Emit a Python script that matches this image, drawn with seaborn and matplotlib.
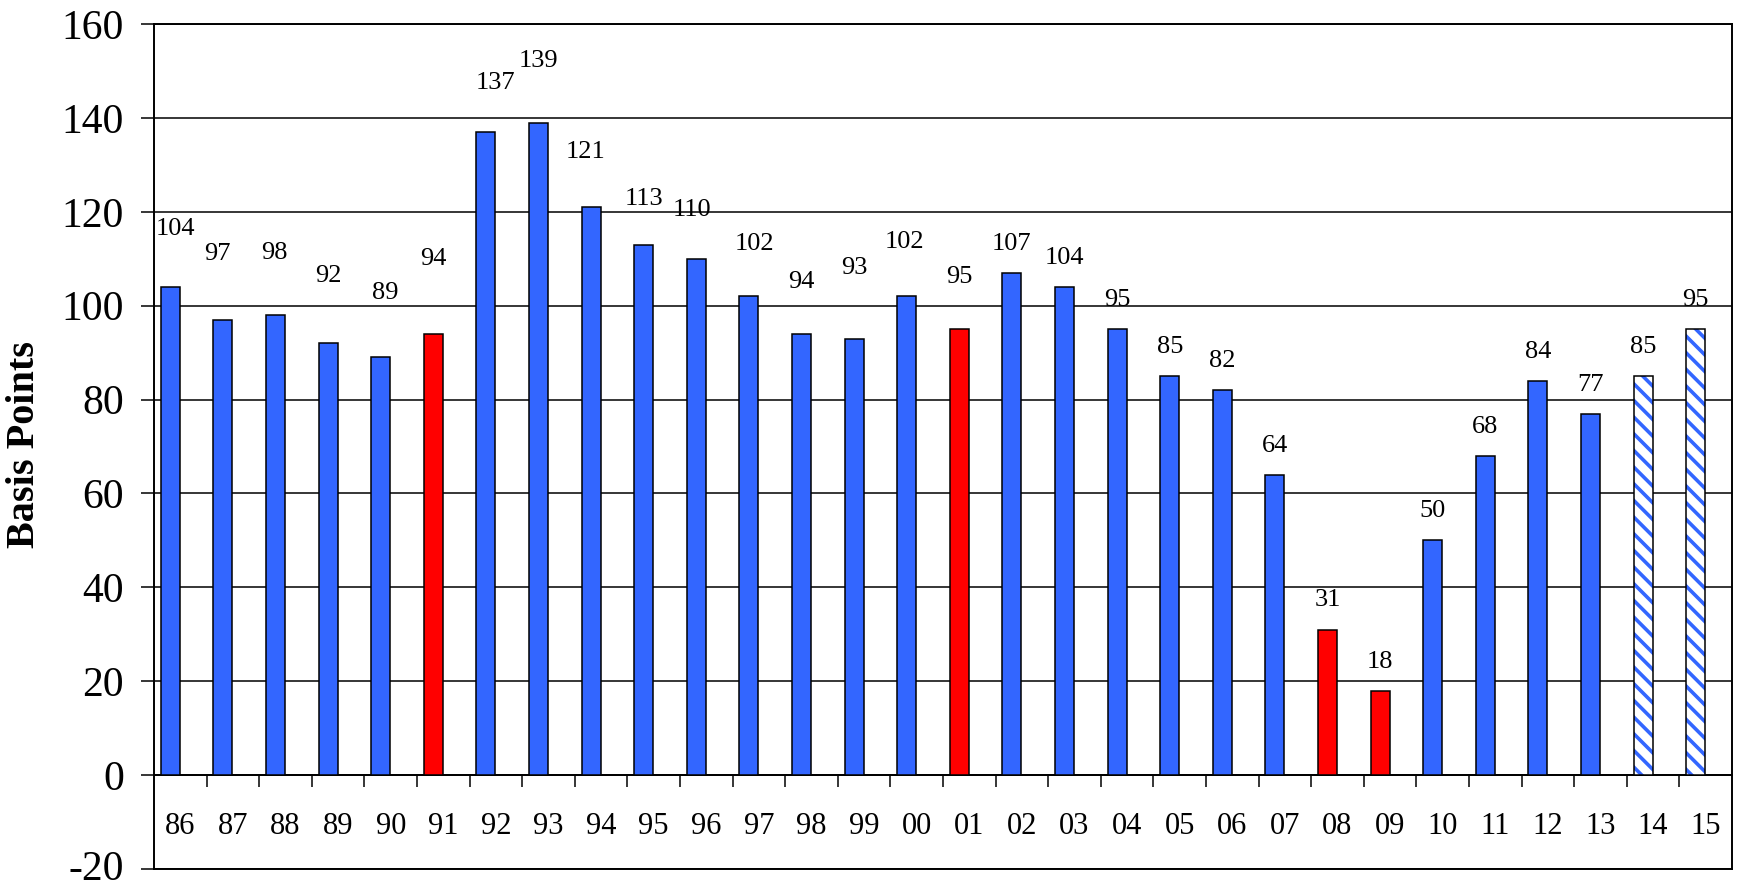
import matplotlib
matplotlib.use("Agg")
import matplotlib.pyplot as plt
import matplotlib.transforms as mtransforms
from matplotlib.patches import Rectangle
import seaborn as sns
import pandas as pd

# Yearly spread values, basis points
years = ["86", "87", "88", "89", "90", "91", "92", "93", "94", "95",
         "96", "97", "98", "99", "00", "01", "02", "03", "04", "05",
         "06", "07", "08", "09", "10", "11", "12", "13", "14", "15"]
basis_points = [104, 97, 98, 92, 89, 94, 137, 139, 121, 113,
                110, 102, 94, 93, 102, 95, 107, 104, 95, 85,
                82, 64, 31, 18, 50, 68, 84, 77, 85, 95]
phase = ["Expansion"] * 5 + ["Recession"] + ["Expansion"] * 9 + ["Recession"] \
    + ["Expansion"] * 6 + ["Recession"] * 2 + ["Expansion"] * 4 + ["Forecast"] * 2

# Hand placement of the value labels: lift above the bar (data units) and sideways nudge (points)
label_lift = [12.4, 13.9, 13.3, 14.4, 13.6, 16.0, 10.5, 13.2, 11.8, 9.8,
              10.3, 11.2, 11.1, 15.1, 11.6, 11.2] + [6.2] * 14
label_nudge = [4, -4, -1, 0, 3, 0, 7, 0, -4, 0, -3, 4, 0, 0, -1.5, 0] + [0] * 14

BLUE = "#3366FF"
RED = "#FF0000"
palette = {"Expansion": BLUE, "Recession": RED, "Forecast": "white"}

df = pd.DataFrame({"year": years, "bp": basis_points, "phase": phase})

sns.set_style("white")
plt.rcParams["font.family"] = ["Liberation Serif", "DejaVu Serif"]
plt.rcParams["axes.unicode_minus"] = False
plt.rcParams["hatch.linewidth"] = 2.6

fig = plt.figure(figsize=(17.38, 8.89), dpi=100)
ax = fig.add_axes([154 / 1738, 20 / 889, 1578 / 1738, 845 / 889])

sns.barplot(data=df, x="year", y="bp", hue="phase", palette=palette,
            order=years, dodge=False, width=0.36, saturation=1,
            edgecolor="black", linewidth=1.1, legend=False, ax=ax, zorder=3)

shift = -0.19
for p in list(ax.patches):
    if p.get_height() == 0:
        continue
    p.set_x(p.get_x() + shift)
    idx = int(round(p.get_x() - shift + p.get_width() / 2))
    if phase[idx] == "Forecast":
        p.set_hatch("\\\\")
        p.set_edgecolor(BLUE)
        p.set_linewidth(0)
        outline = Rectangle(p.get_xy(), p.get_width(), p.get_height(),
                            fill=False, edgecolor="black", linewidth=1.1, zorder=4)
        ax.add_patch(outline)

# Value labels above each bar
for i, (v, lift, dx) in enumerate(zip(basis_points, label_lift, label_nudge)):
    ax.annotate(str(v), xy=(i + shift, v + lift), xytext=(dx, 0),
                textcoords="offset points", ha="center", va="center",
                fontsize=19, color="black", zorder=5)

# Year labels sit in the band below the zero line
for i, y in enumerate(years):
    ax.text(i, -11, y, ha="center", va="center", fontsize=22, color="black")

ax.set_xlim(-0.5, len(years) - 0.5)
ax.set_ylim(-20, 160)
ax.set_yticks(range(-20, 161, 20))
ax.set_xticks([])
ax.set_xlabel("")
ax.set_ylabel("")
ax.tick_params(axis="y", direction="out", length=9.5, width=1.1,
               labelsize=30, pad=12, left=True, colors="black")
ax.yaxis.grid(True, color="black", linewidth=1.1, zorder=0)
ax.set_axisbelow(True)
for s in ax.spines.values():
    s.set_visible(True)
    s.set_color("black")
    s.set_linewidth(1.4)

# Keep the lowest tick label clear of the figure's bottom edge
for tick in ax.yaxis.get_major_ticks():
    tick.label1.set_verticalalignment("center_baseline")
lowest = ax.yaxis.get_major_ticks()[0].label1
lowest.set_transform(lowest.get_transform()
                     + mtransforms.ScaledTranslation(0, 3 / 72, fig.dpi_scale_trans))

# Zero line with category dividers
zero_axis = ax.secondary_xaxis(20 / 180)
zero_axis.set_xticks([i + 0.5 for i in range(len(years) - 1)])
zero_axis.tick_params(direction="out", length=8.5, width=1.1, labelbottom=False,
                      colors="black")
zero_axis.spines["bottom"].set_linewidth(1.4)
zero_axis.spines["bottom"].set_color("black")

fig.text(25 / 1738, 0.5, "Basis Points", rotation=90, ha="center", va="center",
         fontsize=29, fontweight="bold", color="black")

fig.savefig("out.png", dpi=100, facecolor="white")
